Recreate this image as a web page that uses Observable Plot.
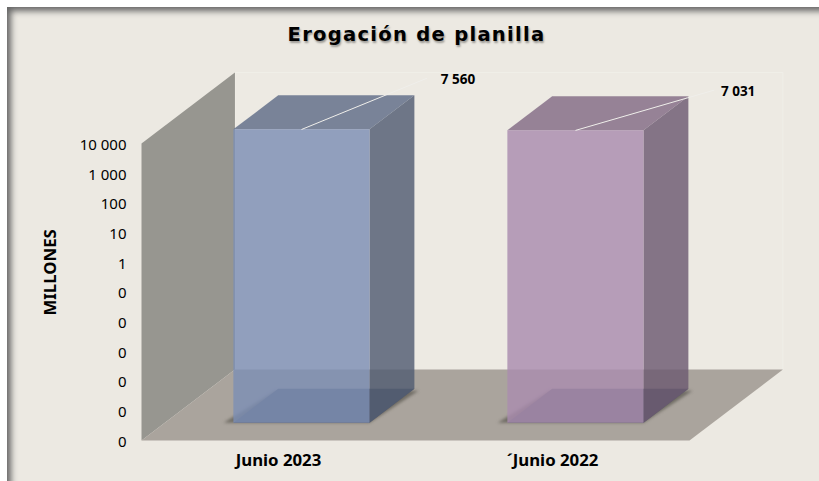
<!DOCTYPE html>
<html><head><meta charset="utf-8">
<script src="https://cdn.jsdelivr.net/npm/d3@7"></script>
<script src="https://cdn.jsdelivr.net/npm/@observablehq/plot@0.6"></script>
<style>
html,body{margin:0;padding:0;background:#fff;overflow:hidden}
#frame{position:absolute;left:7px;top:7px;width:812px;height:474px;background:#ece9e2;
 box-shadow:inset 7px 7px 6px -3px #666;}
#title{position:absolute;left:0;top:23px;width:833px;text-align:center;font:bold 19.5px "DejaVu Sans",sans-serif;
 letter-spacing:1.3px;color:#000;text-shadow:1px 2px 2px rgba(0,0,0,.35);white-space:nowrap}
#chart{position:absolute;left:0;top:0}
svg{overflow:visible}
</style></head><body>
<div id="frame"></div>
<div id="title">Erogación de planilla</div>
<div id="chart"></div>
<script>
// Data
const categories = ["Junio 2023", "´Junio 2022"];
const values = [7560, 7031];
const valueLabels = ["7 560", "7 031"];
const tickValues = [1e-6, 1e-5, 1e-4, 1e-3, 1e-2, 1e-1, 1, 10, 100, 1000, 10000];
const tickLabels = ["0", "0", "0", "0", "0", "0", "1", "10", "100", "1 000", "10 000"];
const axisTitle = "MILLONES";
const frontColors = ["#7d8fb4", "#a98caf"];
const topColors = ["#5f6d88", "#836b85"];
const sideColors = ["#525d73", "#6d5a71"];
const leaderRun = [0.456, 0.504];   // leader length along the category axis
const leaderRise = [1.72, 1.35];    // leader rise, in decades
const labelGap = [14, 7];

// Oblique projection of (category position, value, depth) onto the two scales
const depthU = 0.341, depthDecades = 2.39, minV = 1e-6, maxV = 1e4;
const P = (u, v, d) => ({x: u + depthU * d, y: v * Math.pow(10, depthDecades * d)});
const quad = (pts, fill, extra) => Plot.line(pts, {x: "x", y: "y", fill, stroke: "none", ...extra});

const wall = [P(0,minV,0), P(0,maxV,0), P(0,maxV,1), P(0,minV,1)];
const floor = [P(0,minV,0), P(2,minV,0), P(2,minV,1), P(0,minV,1)];
const back = [P(0,minV,1), P(0,maxV,1), P(2,maxV,1), P(2,minV,1)];

const barMarks = [];
const alpha = 0.82;
values.forEach((v, i) => {
  const u0 = i + 0.25, u1 = i + 0.747, d0 = 0.25, d1 = 0.73;
  barMarks.push(
    quad([P(u0-0.035,minV,d0), P(u1,minV,d0), P(u1+0.025,minV,d1-0.03), P(u0,minV,d1-0.03)], "#4a4740", {imageFilter: "blur(1.5px)", fillOpacity: 0.6}),
    quad([P(u0,minV,d0), P(u1,minV,d0), P(u1,minV,d1), P(u0,minV,d1)], "#565964"),
    quad([P(u1,minV,d0), P(u1,minV,d1), P(u1,v,d1), P(u1,v,d0)], sideColors[i], {fillOpacity: alpha}),
    quad([P(u0,v,d0), P(u1,v,d0), P(u1,v,d1), P(u0,v,d1)], topColors[i], {fillOpacity: alpha}),
    quad([P(u0,minV,d0), P(u1,minV,d0), P(u1,v,d0), P(u0,v,d0)], frontColors[i], {fillOpacity: alpha})
  );
});

const leaders = values.map((v, i) => {
  const a = P(i + 0.5, v, 0.25);
  return [a, {x: a.x + leaderRun[i], y: a.y * Math.pow(10, leaderRise[i])}];
});
const labelRows = leaders.map((l, i) => ({...l[1], label: valueLabels[i], gap: labelGap[i]}));

const chart = Plot.plot({
  width: 819, height: 481,
  marginLeft: 141, marginRight: 130, marginTop: 143, marginBottom: 41,
  style: {background: "transparent", overflow: "visible"},
  x: {type: "linear", domain: [0, 2], axis: null},
  y: {type: "log", domain: [minV, maxV], axis: null},
  marks: [
    quad(back, "#edeae3", {stroke: "#f0efe8", strokeWidth: 1}),
    quad(wall, "#979690"),
    quad(floor, "#aaa49d"),
    ...barMarks,
    ...leaders.map(l => Plot.line(l, {x: "x", y: "y", stroke: "#f0efeb", strokeWidth: 1})),
    ...labelRows.map(r => Plot.text([r], {x: "x", y: "y", text: "label", textAnchor: "start", dx: r.gap, dy: 1,
      fontFamily: "'Open Sans'", fontWeight: "bold", fontSize: 13.5, fill: "#000"})),
    Plot.axisY(tickValues, {tickSize: 0, tickPadding: 15, label: null, dy: 1.5,
      tickFormat: d => tickLabels[tickValues.indexOf(d)],
      fontFamily: "'Noto Sans'", fontSize: 15, fill: "#000", color: "#000"}),
    Plot.axisX([0.5, 1.5], {tickSize: 0, tickPadding: 14, label: null,
      tickFormat: d => categories[Math.floor(d)],
      fontFamily: "'Noto Sans'", fontWeight: "bold", fontSize: 16.8, fill: "#000", color: "#000"}),
    Plot.text([axisTitle], {x: () => -0.332, y: () => Math.pow(10, -0.34), rotate: -90,
      fontFamily: "'Noto Sans'", fontWeight: "bold", fontSize: 16.8, fill: "#000"})
  ]
});
document.getElementById("chart").appendChild(chart);
</script>
</body></html>
